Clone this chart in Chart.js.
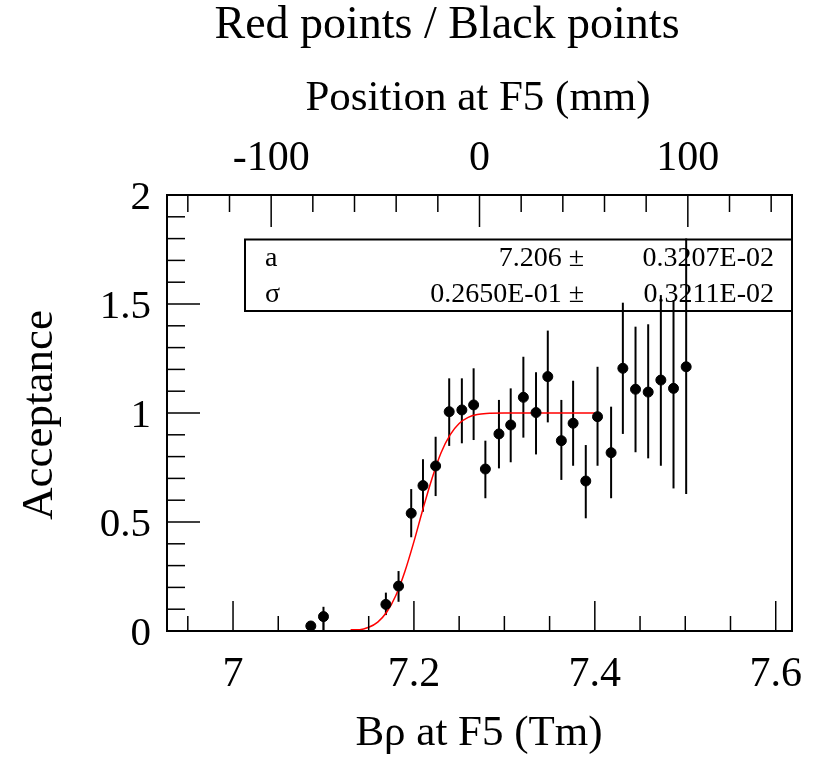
<!DOCTYPE html>
<html lang="en">
<head>
  <meta charset="UTF-8" />
  <title>Acceptance vs B rho at F5</title>
  <script src="https://cdn.jsdelivr.net/npm/chart.js"></script>
  <style>
    body { margin: 0; background: #fff; }
  </style>
</head>
<body>

<canvas id="accChart" width="815" height="764"></canvas>

<script>
// measured points (Brho in Tm)
const brho = [7.086, 7.100, 7.169, 7.183, 7.197, 7.210, 7.224, 7.239, 7.253, 7.266,
  7.279, 7.294, 7.307, 7.321, 7.335, 7.348, 7.363, 7.376, 7.390, 7.403,
  7.418, 7.431, 7.445, 7.459, 7.473, 7.487, 7.501];
const acceptance = [0.023, 0.066, 0.122, 0.206, 0.540, 0.667, 0.757, 1.006, 1.014, 1.037,
  0.743, 0.904, 0.945, 1.072, 1.002, 1.167, 0.873, 0.953, 0.688, 0.983,
  0.818, 1.205, 1.109, 1.096, 1.151, 1.113, 1.212];
const errHigh = [0.040, 0.111, 0.176, 0.275, 0.651, 0.788, 0.891, 1.159, 1.159, 1.205,
  0.873, 1.060, 1.113, 1.258, 1.187, 1.378, 1.060, 1.148, 0.853, 1.212,
  1.029, 1.506, 1.396, 1.407, 1.541, 1.518, 1.800];
const errLow = [0.000, 0.000, 0.073, 0.134, 0.430, 0.547, 0.619, 0.849, 0.861, 0.876,
  0.609, 0.746, 0.774, 0.887, 0.810, 0.957, 0.693, 0.758, 0.517, 0.758,
  0.609, 0.904, 0.820, 0.792, 0.758, 0.654, 0.628];

// red fit curve
const fitX = [7.13, 7.14, 7.15, 7.16, 7.17, 7.18, 7.19, 7.20, 7.21, 7.22,
  7.23, 7.24, 7.25, 7.26, 7.27, 7.28, 7.30, 7.35, 7.40];
const fitY = [0.006, 0.006, 0.017, 0.041, 0.087, 0.163, 0.273, 0.410, 0.560, 0.700,
  0.818, 0.900, 0.952, 0.980, 0.993, 0.998, 1.0, 1.0, 1.0];

// axis ticks
const xTicks = [7.0, 7.2, 7.4, 7.6];
const xTickLabels = ['7', '7.2', '7.4', '7.6'];
const topTicks = [-100, 0, 100];
const topTickLabels = ['-100', '0', '100'];
const yTicks = [0, 0.5, 1, 1.5, 2];
const yTickLabels = ['0', '0.5', '1', '1.5', '2'];

// fit box text
const fitNames = ['a', '\u03c3'];
const fitValues = ['7.206 \u00b1', '0.2650E-01 \u00b1'];
const fitErrors = ['0.3207E-02', '0.3211E-02'];

const serif = '"Liberation Serif", "Times New Roman", serif';

const rootAxes = {
  id: 'rootAxes',
  beforeDatasetsDraw(chart) {
    const { ctx, scales: { x, y } } = chart;
    ctx.save();
    ctx.strokeStyle = '#000';
    ctx.lineWidth = 2;
    for (let i = 0; i < brho.length; i++) {
      const px = x.getPixelForValue(brho[i]);
      ctx.beginPath();
      ctx.moveTo(px, y.getPixelForValue(errLow[i]));
      ctx.lineTo(px, y.getPixelForValue(errHigh[i]));
      ctx.stroke();
    }
    ctx.restore();
  },
  afterDraw(chart) {
    const { ctx, chartArea: a, scales: { x, x2, y } } = chart;
    ctx.save();
    ctx.strokeStyle = '#000';
    ctx.fillStyle = '#000';
    ctx.lineWidth = 2;
    ctx.strokeRect(a.left, a.top, a.right - a.left, a.bottom - a.top);

    ctx.lineWidth = 1.5;
    const tick = (x0, y0, x1, y1) => {
      ctx.beginPath(); ctx.moveTo(x0, y0); ctx.lineTo(x1, y1); ctx.stroke();
    };
    // bottom axis ticks, every 0.05
    for (let v = 6.95; v < x.max; v += 0.05) {
      const px = x.getPixelForValue(v);
      const major = Math.abs(v * 5 - Math.round(v * 5)) < 1e-6;
      tick(px, a.bottom, px, a.bottom - (major ? 30 : 15));
    }
    // top axis ticks, every 20 mm
    for (let v = -140; v <= 140; v += 20) {
      const px = x2.getPixelForValue(v);
      tick(px, a.top, px, a.top + (v % 100 === 0 ? 32 : 17));
    }
    // left axis ticks, every 0.1
    for (let i = 1; i < 20; i++) {
      const py = y.getPixelForValue(i / 10);
      tick(a.left, py, a.left + (i % 5 === 0 ? 33 : 18), py);
    }

    // tick labels
    ctx.font = '42px ' + serif;
    ctx.textAlign = 'center';
    ctx.textBaseline = 'alphabetic';
    xTicks.forEach((v, i) => ctx.fillText(xTickLabels[i], x.getPixelForValue(v), a.bottom + 55));
    topTicks.forEach((v, i) => ctx.fillText(topTickLabels[i], x2.getPixelForValue(v), a.top - 25));
    ctx.font = '41px ' + serif;
    ctx.textAlign = 'right';
    yTicks.forEach((v, i) => ctx.fillText(yTickLabels[i], 151, y.getPixelForValue(v) + 14));

    // titles
    ctx.textAlign = 'center';
    ctx.font = '46px ' + serif;
    ctx.fillText('Red points / Black points', 447, 38);
    ctx.font = '43px ' + serif;
    ctx.fillText('Position at F5 (mm)', 478, 110);
    ctx.fillText('B\u03c1 at F5 (Tm)', 479, 745);
    ctx.save();
    ctx.translate(52, 415);
    ctx.rotate(-Math.PI / 2);
    ctx.font = '45px ' + serif;
    ctx.fillText('Acceptance', 0, 0);
    ctx.restore();

    // fit parameter box
    ctx.lineWidth = 2;
    ctx.strokeRect(245, 239.5, a.right - 245, 71.5);
    ctx.font = '28px ' + serif;
    const rows = [266, 302];
    rows.forEach((by, i) => {
      ctx.textAlign = 'left';
      ctx.fillText(fitNames[i], 265, by);
      ctx.textAlign = 'right';
      ctx.fillText(fitValues[i], 584, by);
      ctx.fillText(fitErrors[i], 774, by);
    });
    ctx.restore();
  }
};

new Chart(document.getElementById('accChart').getContext('2d'), {
  type: 'scatter',
  data: {
    datasets: [
      {
        label: 'Acceptance',
        data: brho.map((b, i) => ({ x: b, y: acceptance[i] })),
        backgroundColor: '#000',
        borderColor: '#000',
        pointRadius: 5,
        pointHoverRadius: 5,
        showLine: false
      },
      {
        label: 'Fit',
        data: fitX.map((b, i) => ({ x: b, y: fitY[i] })),
        borderColor: '#ff0000',
        borderWidth: 1.5,
        pointRadius: 0,
        showLine: true,
        cubicInterpolationMode: 'monotone'
      }
    ]
  },
  options: {
    responsive: false,
    animation: false,
    layout: { padding: { left: 167, right: 23, top: 195, bottom: 133 } },
    plugins: { legend: { display: false }, tooltip: { enabled: false }, title: { display: false } },
    scales: {
      x: { type: 'linear', min: 6.927, max: 7.618, display: false },
      x2: { type: 'linear', position: 'top', min: -150, max: 150, display: false },
      y: { type: 'linear', min: 0, max: 2, display: false }
    }
  },
  plugins: [rootAxes]
});
</script>

</body>
</html>
